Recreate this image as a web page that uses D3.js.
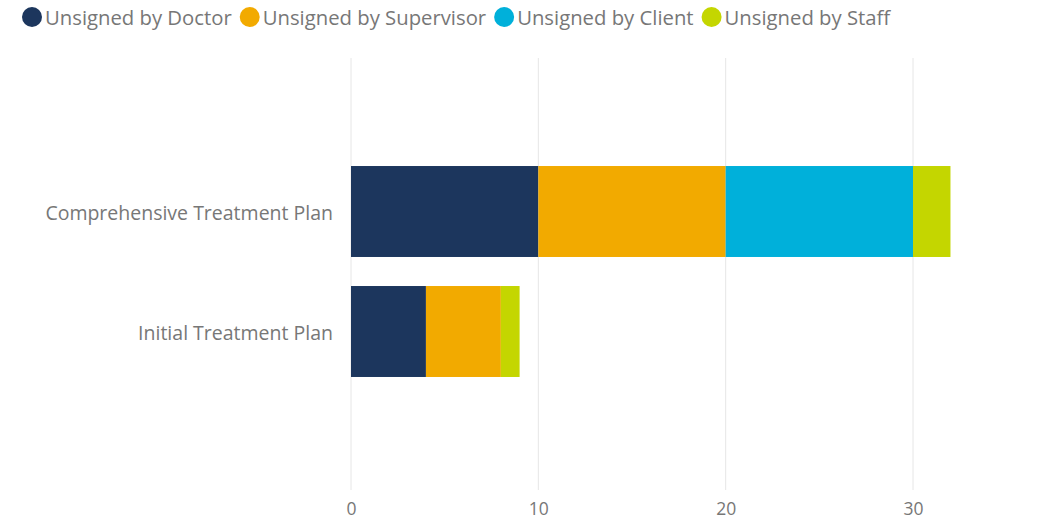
<!DOCTYPE html>
<html>
<head>
<meta charset="utf-8">
<script src="https://cdnjs.cloudflare.com/ajax/libs/d3/7.8.5/d3.min.js"></script>
<style>
  body { margin: 0; background: #fff; }
  text { font-family: "Segoe UI", "Open Sans", sans-serif; fill: #777; }
</style>
</head>
<body>
<div class="visholder"></div>
<script>
let width = 1050,
    height = 521;

const categories = ["Comprehensive Treatment Plan", "Initial Treatment Plan"];
const seriesNames = ["Unsigned by Doctor", "Unsigned by Supervisor", "Unsigned by Client", "Unsigned by Staff"];
const colors = ["#1c365d", "#f2aa00", "#00b0da", "#c4d600"];
const doctor = [10, 4];
const supervisor = [10, 4];
const client = [10, 0];
const staff = [2, 1];
const xTicks = [0, 10, 20, 30];

const table = categories.map(function (c, i) {
    return {
        cat: c,
        "Unsigned by Doctor": doctor[i],
        "Unsigned by Supervisor": supervisor[i],
        "Unsigned by Client": client[i],
        "Unsigned by Staff": staff[i]
    };
});

var svg = d3.select(".visholder")
    .append("svg")
    .attr("width", width)
    .attr("height", height);

var x = d3.scaleLinear().domain([0, 30]).range([351, 913]);
var y = d3.scaleBand().domain(categories).range([151.5, 391.5]).paddingInner(0.242).paddingOuter(0.121);

// grid
svg.append("g")
    .selectAll("line")
    .data(xTicks)
    .enter()
    .append("line")
    .attr("x1", d => x(d))
    .attr("x2", d => x(d))
    .attr("y1", 58)
    .attr("y2", 490)
    .attr("stroke", "#e6e6e6")
    .attr("stroke-width", 1);

var xAxis = d3.axisBottom(x).tickValues(xTicks).tickSize(0).tickPadding(0);
svg.append("g")
    .attr("transform", "translate(0,509)")
    .call(xAxis)
    .call(g => g.select(".domain").remove())
    .selectAll("text")
    .style("font-size", "17.5px")
    .attr("dy", "0.35em");

var yAxis = d3.axisLeft(y).tickSize(0).tickPadding(0);
svg.append("g")
    .attr("transform", "translate(333,2)")
    .call(yAxis)
    .call(g => g.select(".domain").remove())
    .selectAll("text")
    .style("font-size", "19.5px")
    .attr("dy", "0.35em");

var stack = d3.stack().keys(seriesNames)(table);

svg.append("g")
    .selectAll("g")
    .data(stack)
    .enter()
    .append("g")
    .attr("fill", (d, i) => colors[i])
    .selectAll("rect")
    .data(d => d)
    .enter()
    .append("rect")
    .attr("x", d => x(d[0]))
    .attr("width", d => x(d[1]) - x(d[0]))
    .attr("y", d => y(d.data.cat))
    .attr("height", y.bandwidth());

// legend
var legend = svg.append("g").attr("id", "legend");
var lx = 32;
seriesNames.forEach(function (name, i) {
    legend.append("circle")
        .attr("cx", lx)
        .attr("cy", 17)
        .attr("r", 10)
        .attr("fill", colors[i]);
    var t = legend.append("text")
        .attr("x", lx + 13)
        .attr("y", 18)
        .attr("dy", "0.35em")
        .style("font-size", "20.3px")
        .text(name);
    lx = lx + 13 + t.node().getComputedTextLength() + 18;
});
</script>
</body>
</html>
